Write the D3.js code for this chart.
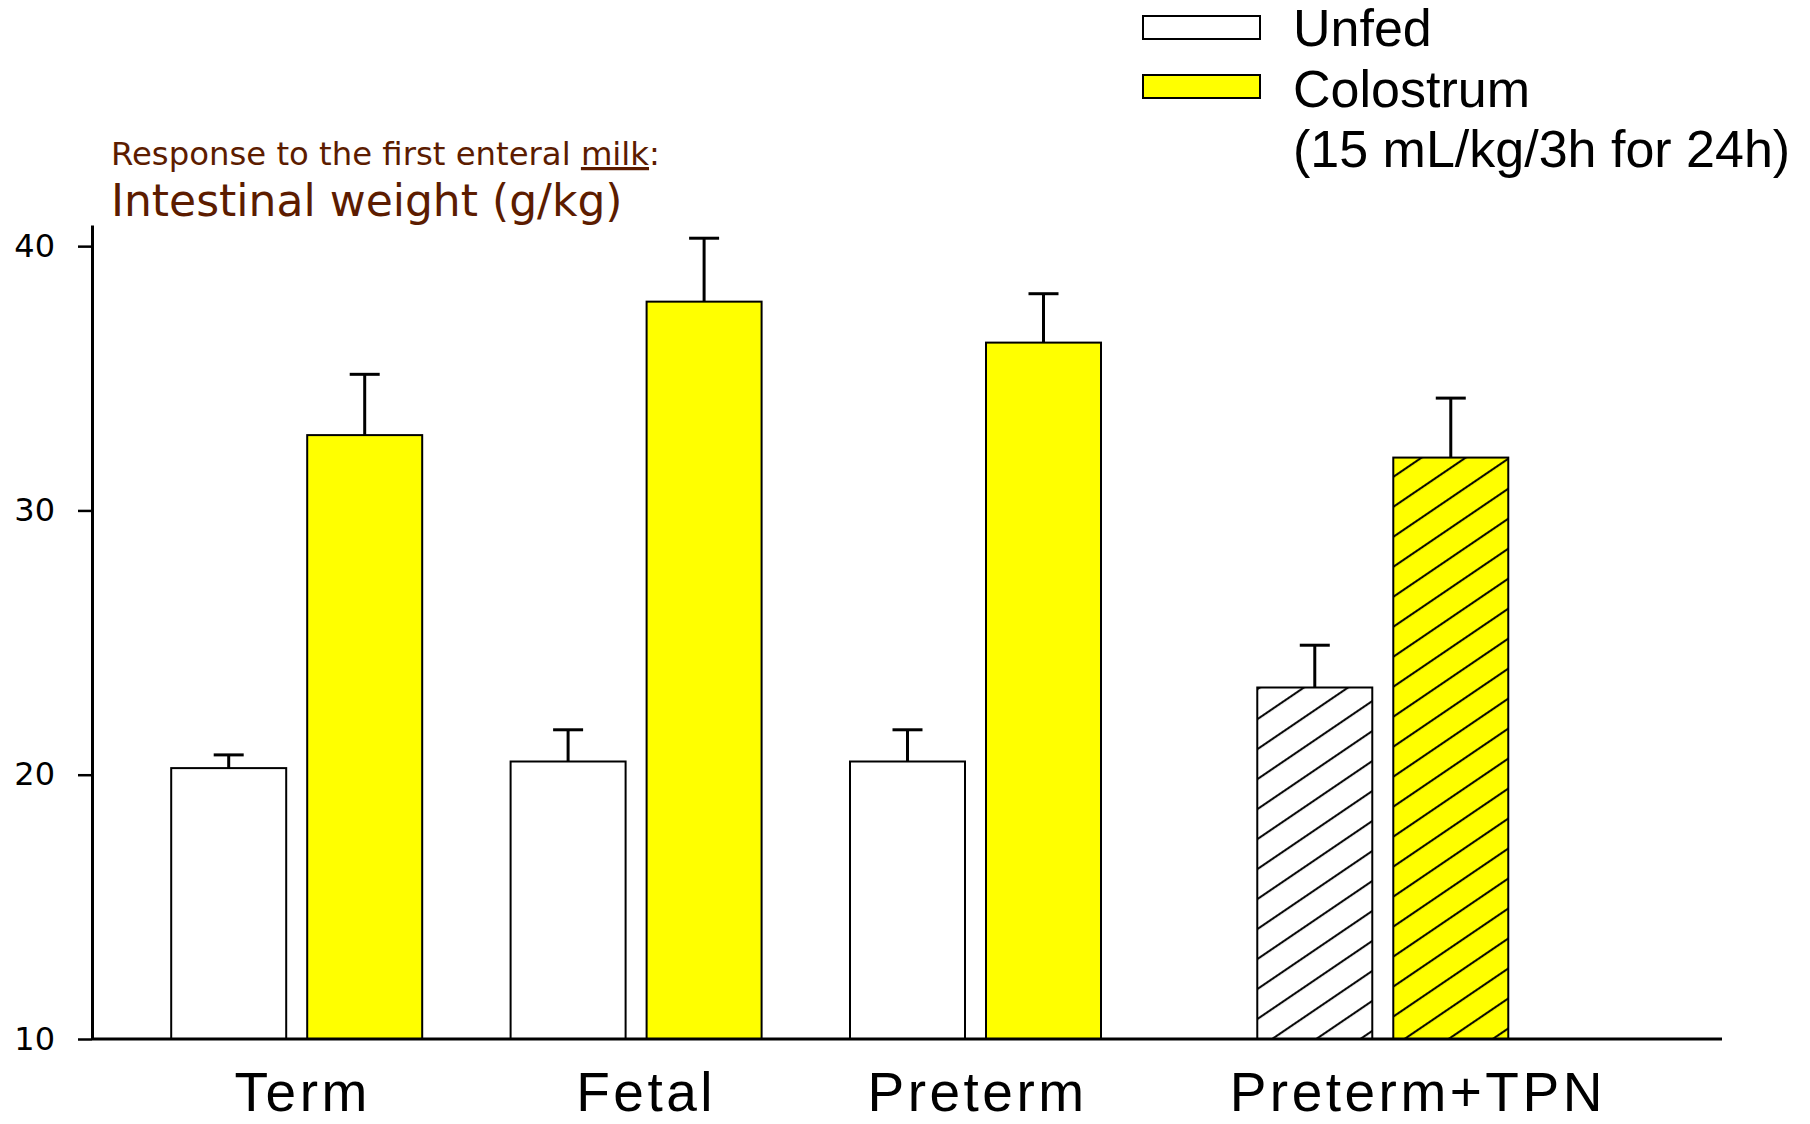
<!DOCTYPE html>
<html>
<head>
<meta charset="utf-8">
<script src="https://cdn.jsdelivr.net/npm/d3@7"></script>
<style>
  html, body { margin: 0; padding: 0; background: #fff; }
  svg { display: block; }
</style>
</head>
<body>
<div id="chart"></div>
<script>
// data
var groups = ["Term", "Fetal", "Preterm", "Preterm+TPN"];
var unfed = [20.25, 20.5, 20.5, 23.3];
var unfedErr = [0.5, 1.2, 1.2, 1.6];
var colostrum = [32.85, 37.9, 36.35, 32.0];
var colostrumErr = [2.3, 2.4, 1.85, 2.25];
var hatched = [false, false, false, true];
var yTicks = [10, 20, 30, 40];

// layout (group slot along x, TPN group sits a bit further out)
var slot = [0, 1, 2, 3.2];
var labelNudge = [6, 10, 2, 35];

var W = 1810, H = 1124;
var barW = 115, gap = 21;

var svg = d3.select("#chart").append("svg")
    .attr("width", W)
    .attr("height", H);

var x = d3.scaleLinear()
    .domain([0, 1])
    .range([296.7, 636.1]);

var y = d3.scaleLinear()
    .domain([10, 40.8])
    .range([1039, 225]);

// hatch patterns
var defs = svg.append("defs");
function hatch(id, bg) {
  var p = defs.append("pattern")
      .attr("id", id)
      .attr("patternUnits", "userSpaceOnUse")
      .attr("width", 20)
      .attr("height", 24.8)
      .attr("patternTransform", "rotate(-34.2)");
  p.append("rect").attr("width", 20).attr("height", 24.8).attr("fill", bg);
  p.append("line")
      .attr("x1", 0).attr("x2", 20)
      .attr("y1", 12).attr("y2", 12)
      .attr("stroke", "#000").attr("stroke-width", 2);
}
hatch("hatchWhite", "#fff");
hatch("hatchYellow", "#ffff00");

var data = groups.map(function(g, i) {
  return [
    {g: i, v: unfed[i], e: unfedErr[i], dx: -gap / 2 - barW,
     fill: hatched[i] ? "url(#hatchWhite)" : "#fff"},
    {g: i, v: colostrum[i], e: colostrumErr[i], dx: gap / 2,
     fill: hatched[i] ? "url(#hatchYellow)" : "#ffff00"}
  ];
}).flat();

// error bars (drawn first, bar top covers the stem base)
var err = svg.append("g").attr("class", "err");
err.selectAll("line.stem")
    .data(data)
  .enter().append("line")
    .attr("class", "stem")
    .attr("x1", function(d) { return x(slot[d.g]) + d.dx + barW / 2; })
    .attr("x2", function(d) { return x(slot[d.g]) + d.dx + barW / 2; })
    .attr("y1", function(d) { return y(d.v); })
    .attr("y2", function(d) { return y(d.v + d.e); })
    .attr("stroke", "#000").attr("stroke-width", 3);
err.selectAll("line.cap")
    .data(data)
  .enter().append("line")
    .attr("class", "cap")
    .attr("x1", function(d) { return x(slot[d.g]) + d.dx + barW / 2 - 15; })
    .attr("x2", function(d) { return x(slot[d.g]) + d.dx + barW / 2 + 15; })
    .attr("y1", function(d) { return y(d.v + d.e); })
    .attr("y2", function(d) { return y(d.v + d.e); })
    .attr("stroke", "#000").attr("stroke-width", 3);

// bars
svg.selectAll("rect.bar")
    .data(data)
  .enter().append("rect")
    .attr("class", "bar")
    .attr("x", function(d) { return x(slot[d.g]) + d.dx; })
    .attr("y", function(d) { return y(d.v); })
    .attr("width", barW)
    .attr("height", function(d) { return y(10) - y(d.v); })
    .attr("fill", function(d) { return d.fill; })
    .attr("stroke", "#000")
    .attr("stroke-width", 2);

// y axis
var yAxis = svg.append("g")
    .attr("transform", "translate(92,0)")
    .call(d3.axisLeft(y).tickValues(yTicks).tickSize(14).tickPadding(23).tickSizeOuter(0));
yAxis.select(".domain").attr("stroke-width", 3);
yAxis.selectAll(".tick line").attr("stroke-width", 2.5);
yAxis.selectAll(".tick text")
    .attr("font-family", "DejaVu Sans, sans-serif")
    .attr("font-size", 32)
    .attr("fill", "#000");

// x axis line
svg.append("line")
    .attr("x1", 92).attr("x2", 1722)
    .attr("y1", y(10)).attr("y2", y(10))
    .attr("stroke", "#000").attr("stroke-width", 3);

// group labels
svg.selectAll("text.grp")
    .data(groups)
  .enter().append("text")
    .attr("class", "grp")
    .attr("x", function(d, i) { return x(slot[i]) + labelNudge[i]; })
    .attr("y", 1111)
    .attr("text-anchor", "middle")
    .attr("font-family", "Liberation Sans, Arial, sans-serif")
    .attr("font-size", 55)
    .attr("letter-spacing", 3.5)
    .text(function(d) { return d; });

// title
var t1 = svg.append("text")
    .attr("x", 111).attr("y", 165)
    .attr("font-family", "DejaVu Sans, sans-serif")
    .attr("font-size", 32.3)
    .attr("fill", "#5c1c00");
t1.append("tspan").text("Response to the first enteral ");
t1.append("tspan").attr("text-decoration", "underline").text("milk");
t1.append("tspan").text(":");

svg.append("text")
    .attr("x", 111).attr("y", 216)
    .attr("font-family", "DejaVu Sans, sans-serif")
    .attr("font-size", 44)
    .attr("fill", "#5c1c00")
    .text("Intestinal weight (g/kg)");

// legend
var legend = [
  {label: "Unfed", fill: "#fff"},
  {label: "Colostrum", fill: "#ffff00"}
];
var lg = svg.append("g");
lg.selectAll("rect")
    .data(legend)
  .enter().append("rect")
    .attr("x", 1143)
    .attr("y", function(d, i) { return 16 + i * 59; })
    .attr("width", 117)
    .attr("height", 23)
    .attr("fill", function(d) { return d.fill; })
    .attr("stroke", "#000")
    .attr("stroke-width", 2);
lg.selectAll("text")
    .data(legend.map(function(d) { return d.label; }).concat(["(15 mL/kg/3h for 24h)"]))
  .enter().append("text")
    .attr("x", 1293)
    .attr("y", function(d, i) { return 46 + i * 60.5; })
    .attr("font-family", "Liberation Sans, Arial, sans-serif")
    .attr("font-size", 52)
    .text(function(d) { return d; });
</script>
</body>
</html>
